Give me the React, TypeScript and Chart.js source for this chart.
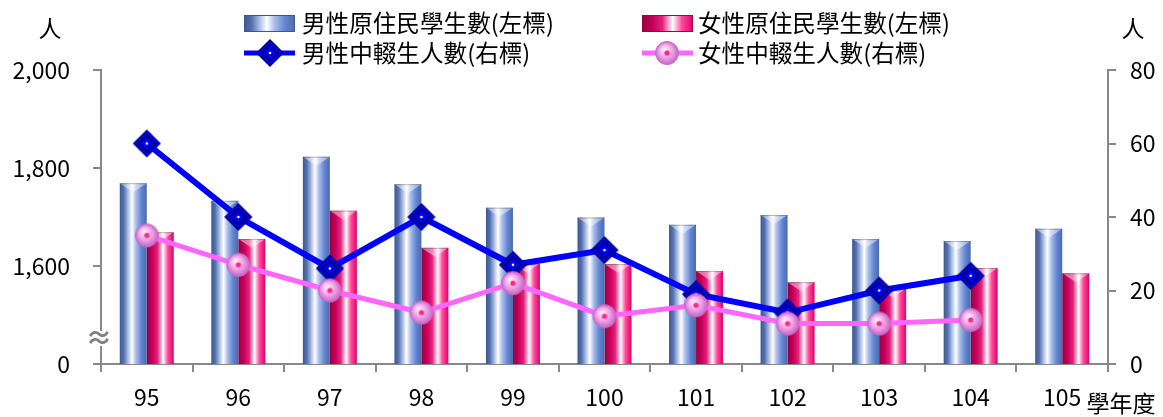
import React, { useEffect, useRef } from 'react';
import { Chart, registerables } from 'chart.js';

Chart.register(...registerables);

const years = ['95', '96', '97', '98', '99', '100', '101', '102', '103', '104', '105'];
const maleStudents = [1769, 1733, 1823, 1767, 1719, 1699, 1684, 1704, 1655, 1651, 1676];
const femaleStudents = [1669, 1655, 1713, 1637, 1605, 1604, 1590, 1567, 1554, 1596, 1585];
const maleDropouts = [60, 40, 26, 40, 27, 31, 19, 14, 20, 24, null];
const femaleDropouts = [35, 27, 20, 14, 22, 13, 16, 11, 11, 12, null];
const leftTicks = [1400, 1600, 1800, 2000];
const leftTickLabels = ['0', '1,600', '1,800', '2,000'];
const rightTicks = [0, 20, 40, 60, 80];
const seriesNames = ['男性原住民學生數(左標)', '女性原住民學生數(左標)', '男性中輟生人數(右標)', '女性中輟生人數(右標)'];
const unitLabel = '人';
const xTitle = '學年度';

const FONT = '"Noto Sans CJK TC", "Noto Sans", sans-serif';
const FS = 23;
const LFS = 23.6;
const AXIS = '#888888';
const CAT_PCT = 0.59;

function maleGrad(ctx: CanvasRenderingContext2D, l: number, r: number) {
  const g = ctx.createLinearGradient(l, 0, r, 0);
  g.addColorStop(0, '#3c5890');
  g.addColorStop(0.15, '#5572b0');
  g.addColorStop(0.33, '#b9c8ea');
  g.addColorStop(0.45, '#ffffff');
  g.addColorStop(0.6, '#a9bdea');
  g.addColorStop(0.8, '#6386d2');
  g.addColorStop(1, '#4a6ab0');
  return g;
}
function femaleGrad(ctx: CanvasRenderingContext2D, l: number, r: number) {
  const g = ctx.createLinearGradient(l, 0, r, 0);
  g.addColorStop(0, '#980040');
  g.addColorStop(0.2, '#c4005a');
  g.addColorStop(0.4, '#e8207a');
  g.addColorStop(0.6, '#ffffff');
  g.addColorStop(0.78, '#ff4a9a');
  g.addColorStop(1, '#e0006a');
  return g;
}

function makeDiamond() {
  const c = document.createElement('canvas');
  c.width = 30; c.height = 30;
  const x = c.getContext('2d')!;
  x.beginPath();
  x.moveTo(15, 2); x.lineTo(28, 15); x.lineTo(15, 28); x.lineTo(2, 15); x.closePath();
  x.fillStyle = '#0000f2'; x.fill();
  x.lineWidth = 1.5; x.strokeStyle = '#00008a'; x.stroke();
  x.beginPath();
  x.moveTo(15, 7); x.lineTo(23, 15); x.lineTo(15, 23); x.lineTo(7, 15); x.closePath();
  x.lineWidth = 2; x.strokeStyle = '#00007a'; x.stroke();
  x.beginPath(); x.arc(15, 15, 1.3, 0, Math.PI * 2); x.fillStyle = '#ffffff'; x.fill();
  return c;
}
function makeSphere() {
  const c = document.createElement('canvas');
  c.width = 26; c.height = 26;
  const x = c.getContext('2d')!;
  const g = x.createRadialGradient(10, 9, 1, 13, 13, 12);
  g.addColorStop(0, '#ffe8fb');
  g.addColorStop(0.5, '#f4a4ea');
  g.addColorStop(1, '#c062c0');
  x.beginPath(); x.arc(13, 13, 11.5, 0, Math.PI * 2);
  x.fillStyle = g; x.fill();
  x.lineWidth = 1; x.strokeStyle = '#c86cc8'; x.stroke();
  x.beginPath(); x.arc(13, 13, 2.6, 0, Math.PI * 2); x.fillStyle = '#ff2a80'; x.fill();
  return c;
}

export default function App() {
  const ref = useRef<HTMLCanvasElement>(null);
  useEffect(() => {
    const canvas = ref.current;
    if (!canvas) return;
    const diamond = makeDiamond();
    const sphere = makeSphere();

    const barBg = (isMale: boolean) => (c: any) => {
      const chart = c.chart;
      const xs = chart.scales && chart.scales.x;
      if (!xs || c.type !== 'data' || !xs.width) return isMale ? '#5b7fd0' : '#e0006a';
      const center = xs.getPixelForValue(c.dataIndex);
      const bw = (xs.width / years.length) * CAT_PCT / 2;
      return isMale ? maleGrad(chart.ctx, center - bw, center) : femaleGrad(chart.ctx, center, center + bw);
    };

    const barDeco = {
      id: 'barDeco',
      afterDatasetDraw(chart: any, args: any) {
        const meta = args.meta;
        if (meta.type !== 'bar') return;
        const ctx = chart.ctx;
        ctx.save();
        meta.data.forEach((el: any) => {
          const p = el.getProps(['x', 'y', 'width', 'base'], true);
          const l = p.x - p.width / 2, r = p.x + p.width / 2;
          const h = 18;
          const g = ctx.createLinearGradient(0, p.base - h, 0, p.base);
          g.addColorStop(0, 'rgba(255,255,255,0)');
          g.addColorStop(1, 'rgba(255,255,255,0.7)');
          ctx.fillStyle = g;
          ctx.fillRect(l, p.base - h, p.width, h);
          ctx.beginPath();
          ctx.moveTo(l, p.y); ctx.lineTo(r, p.y); ctx.lineTo(p.x, p.y + 9); ctx.closePath();
          ctx.fillStyle = 'rgba(255,255,255,0.45)';
          ctx.fill();
          ctx.beginPath(); ctx.moveTo(l, p.y + 0.5); ctx.lineTo(r, p.y + 0.5);
          ctx.strokeStyle = 'rgba(0,0,0,0.25)'; ctx.lineWidth = 1; ctx.stroke();
        });
        ctx.restore();
      },
    };

    const decor = {
      id: 'decor',
      afterDraw(chart: any) {
        const ctx = chart.ctx;
        ctx.save();
        ctx.font = `${FS}px ${FONT}`;
        ctx.fillStyle = '#000';
        ctx.textBaseline = 'middle';
        ctx.textAlign = 'center';
        ctx.fillText(unitLabel, 50, 28);
        ctx.fillText(unitLabel, 1133, 28);
        ctx.fillText(xTitle, 1121, 403);
        // axis break symbol
        ctx.fillStyle = '#fff';
        ctx.fillRect(90, 331, 19, 15);
        ctx.fillStyle = '#808080';
        ctx.font = `bold 27px ${FONT}`;
        ctx.fillText('≈', 99, 338);
        // legend
        ctx.font = `${LFS}px ${FONT}`;
        ctx.textAlign = 'left';
        const rows = [23, 53];
        const cols = [244, 642];
        const iconW = 51;
        const drawBarIcon = (x0: number, y: number, male: boolean) => {
          const g = male ? maleGrad(ctx, x0, x0 + iconW) : femaleGrad(ctx, x0, x0 + iconW);
          ctx.fillStyle = g;
          ctx.fillRect(x0, y - 8, iconW, 17);
          ctx.strokeStyle = male ? '#3c5890' : '#a00044';
          ctx.lineWidth = 1;
          ctx.strokeRect(x0 + 0.5, y - 7.5, iconW - 1, 16);
        };
        drawBarIcon(cols[0], rows[0], true);
        drawBarIcon(cols[1], rows[0], false);
        ctx.lineWidth = 5;
        ctx.strokeStyle = '#0000ff';
        ctx.beginPath(); ctx.moveTo(cols[0], rows[1]); ctx.lineTo(cols[0] + iconW, rows[1]); ctx.stroke();
        ctx.drawImage(diamond, cols[0] + 26 - 15, rows[1] - 15);
        ctx.strokeStyle = '#ff66ff';
        ctx.beginPath(); ctx.moveTo(cols[1], rows[1]); ctx.lineTo(cols[1] + iconW, rows[1]); ctx.stroke();
        ctx.drawImage(sphere, cols[1] + 25 - 13, rows[1] - 13);
        ctx.fillStyle = '#000';
        ctx.fillText(seriesNames[0], 302, rows[0]);
        ctx.fillText(seriesNames[1], 698, rows[0]);
        ctx.fillText(seriesNames[2], 302, rows[1]);
        ctx.fillText(seriesNames[3], 698, rows[1]);
        ctx.restore();
      },
    };

    const chart = new Chart(canvas, {
      type: 'bar',
      data: {
        labels: years,
        datasets: [
          {
            type: 'line', label: seriesNames[3], data: femaleDropouts, yAxisID: 'y1', order: 0,
            borderColor: '#ff66ff', backgroundColor: '#ff66ff', borderWidth: 5,
            pointStyle: sphere as any, pointRadius: 12, tension: 0,
          } as any,
          {
            type: 'line', label: seriesNames[2], data: maleDropouts, yAxisID: 'y1', order: 1,
            borderColor: '#0000ff', backgroundColor: '#0000ff', borderWidth: 6,
            pointStyle: diamond as any, pointRadius: 12, tension: 0,
          } as any,
          {
            type: 'bar', label: seriesNames[0], data: maleStudents, yAxisID: 'y', order: 2,
            backgroundColor: barBg(true), borderWidth: 0,
            categoryPercentage: CAT_PCT, barPercentage: 1,
          } as any,
          {
            type: 'bar', label: seriesNames[1], data: femaleStudents, yAxisID: 'y', order: 3,
            backgroundColor: barBg(false), borderWidth: 0,
            categoryPercentage: CAT_PCT, barPercentage: 1,
          } as any,
        ],
      },
      options: {
        animation: false,
        responsive: false,
        maintainAspectRatio: false,
        layout: { padding: { top: 70, left: 0, right: 0, bottom: 0 } },
        plugins: { legend: { display: false }, tooltip: { enabled: false } },
        scales: {
          x: {
            offset: true,
            grid: { display: true, drawOnChartArea: false, drawTicks: true, tickLength: 8, offset: true, color: AXIS, lineWidth: 2 },
            border: { display: true, color: AXIS, width: 2 },
            ticks: { color: '#000', font: { family: FONT, size: FS }, padding: 11, maxRotation: 0 },
            afterFit: (s: any) => { s.height = 53; },
          },
          y: {
            position: 'left',
            min: 1400, max: 2000,
            afterBuildTicks: (s: any) => { s.ticks = leftTicks.map((v) => ({ value: v })); },
            grid: { display: true, drawOnChartArea: false, drawTicks: true, tickLength: 8, color: AXIS, lineWidth: 2 },
            border: { display: true, color: AXIS, width: 2 },
            ticks: {
              color: '#000', font: { family: FONT, size: FS }, padding: 23,
              callback: (v: any) => { const i = leftTicks.indexOf(Number(v)); return i >= 0 ? leftTickLabels[i] : ''; },
            },
            afterFit: (s: any) => { s.width = 101; },
          },
          y1: {
            position: 'right',
            min: 0, max: 80,
            afterBuildTicks: (s: any) => { s.ticks = rightTicks.map((v) => ({ value: v })); },
            grid: { display: true, drawOnChartArea: false, drawTicks: true, tickLength: 8, color: AXIS, lineWidth: 2 },
            border: { display: true, color: AXIS, width: 2 },
            ticks: { color: '#000', font: { family: FONT, size: FS }, padding: 14 },
            afterFit: (s: any) => { s.width = 55; },
          },
        },
      } as any,
      plugins: [barDeco, decor],
    });
    return () => chart.destroy();
  }, []);

  return (
    <div style={{ position: 'fixed', left: 0, top: 0, width: 1163, height: 417, background: '#fff' }}>
      <canvas ref={ref} width={1163} height={417} style={{ display: 'block', width: 1163, height: 417 }} />
    </div>
  );
}
